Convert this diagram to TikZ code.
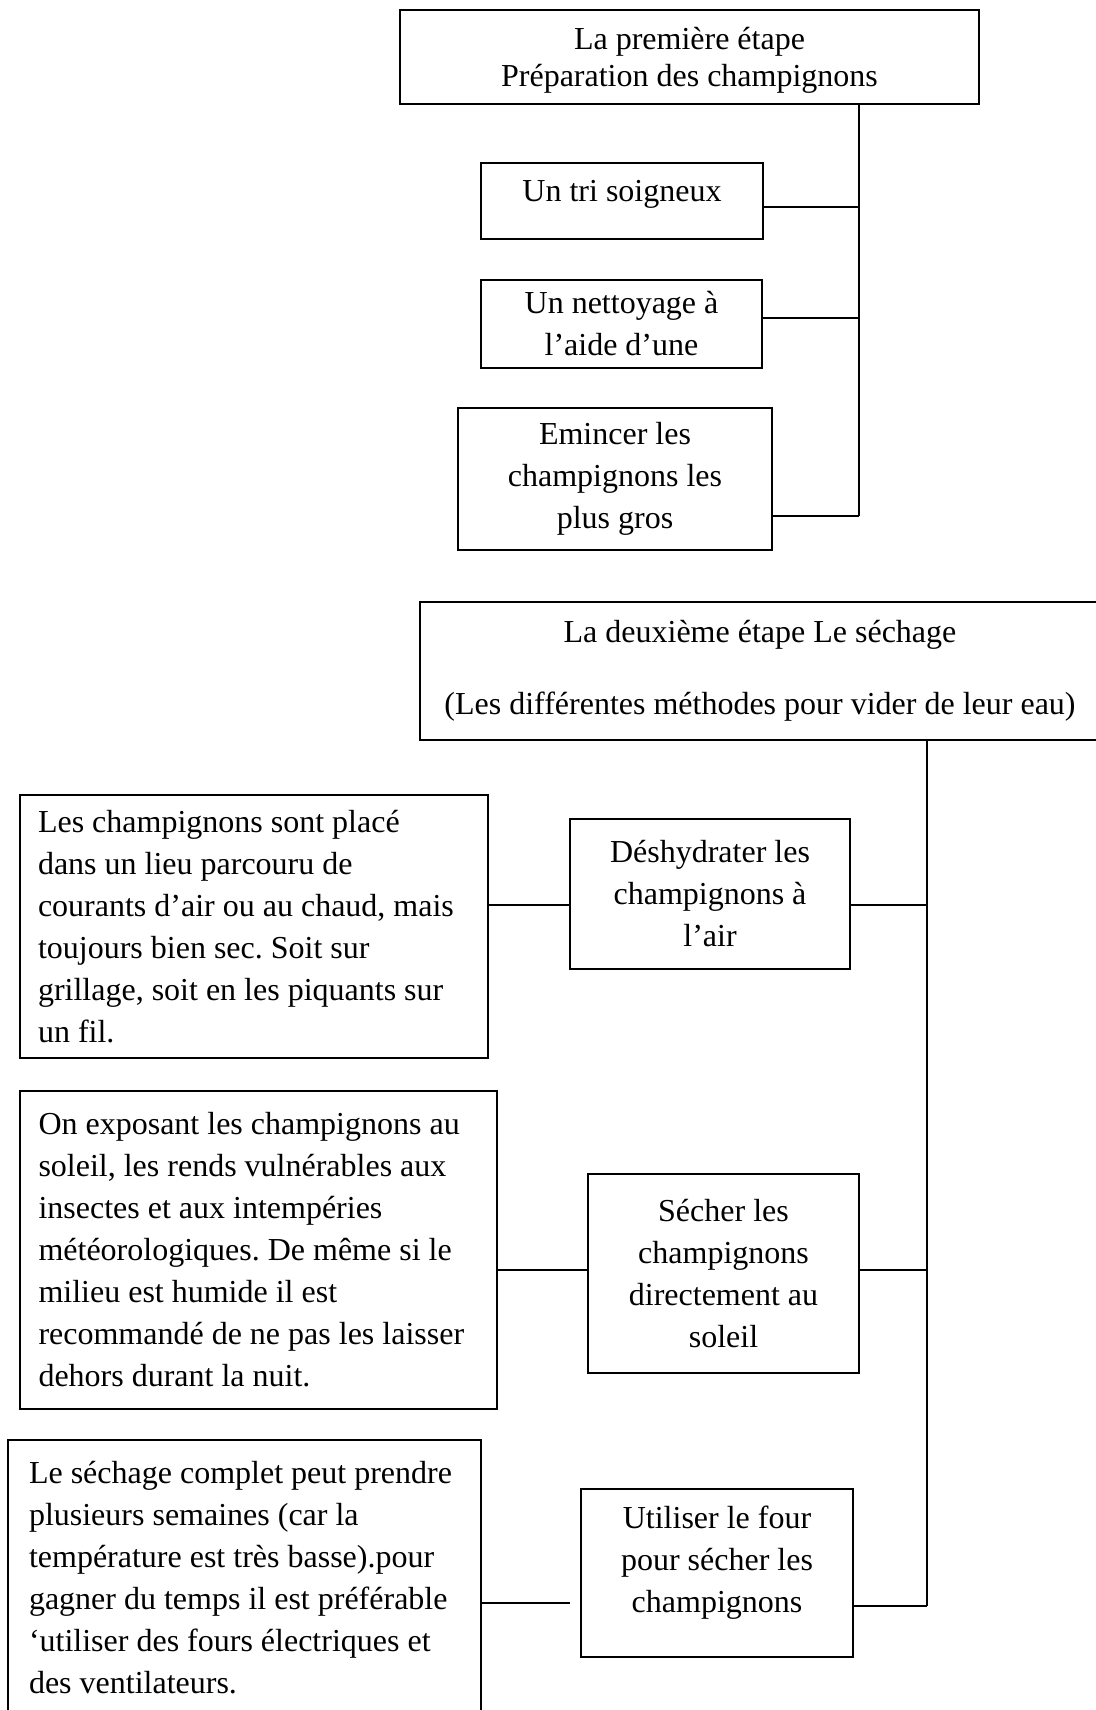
\documentclass[tikz,border=0pt]{standalone}
\usepackage{fontspec}
\setmainfont{Liberation Serif}
\frenchspacing
\begin{document}
\begin{tikzpicture}[x=0.375pt,y=-0.375pt,
  box/.style={draw,line width=0.7pt,rectangle,inner ysep=0pt,inner xsep=2pt,align=center,
    font=\fontsize{12pt}{15.75pt}\selectfont\frenchspacing},
  lbox/.style={draw,line width=0.7pt,rectangle,inner ysep=0pt,align=flush left,
    font=\fontsize{12pt}{15.75pt}\selectfont\frenchspacing},
  conn/.style={line width=0.7pt}]
\useasboundingbox (0,0) rectangle (1096,1710);
\clip (0,0) rectangle (1096,1710);

% ---- first stage
\node[box,minimum width=217.125pt,minimum height=35.25pt,text depth=0pt,font=\fontsize{12pt}{13.9pt}\selectfont] (b1) at (689.5,57)
  {La première étape\\Préparation des champignons};
\node[box,minimum width=105.75pt,minimum height=28.5pt,text depth=7.8pt] (b2) at (622,201) {Un tri soigneux};
\node[box,minimum width=105.375pt,minimum height=33pt] (b3) at (621.5,324) {Un nettoyage à\\l’aide d’une};
\node[box,minimum width=117.75pt,minimum height=53.25pt] (b4) at (615,479) {Emincer les\\champignons les\\plus gros};

\coordinate (j11) at (859,207);
\coordinate (j12) at (859,318);
\coordinate (j13) at (859,516);
\draw[conn] (b1.south -| j13) -- (j13);
\draw[conn] (b2.east |- j11) -- (j11);
\draw[conn] (b3.east |- j12) -- (j12);
\draw[conn] (b4.east |- j13) -- (j13);

% ---- second stage
\node[box,minimum width=255pt,minimum height=51.75pt] (b5) at (760,671)
  {La deuxième étape Le séchage\\[11.25pt](Les différentes méthodes pour vider de leur eau)};

\node[lbox,minimum width=175.5pt,minimum height=98.625pt,inner xsep=6.75pt,text width=162pt] (ba) at (254,926.5)
  {Les champignons sont placé\\dans un lieu parcouru de\\courants d’air ou au chaud, mais\\toujours bien sec. Soit sur\\grillage, soit en les piquants sur\\un fil.};
\node[box,minimum width=105pt,minimum height=56.25pt] (b6) at (710,894) {Déshydrater les\\champignons à\\l’air};

\node[lbox,minimum width=178.875pt,minimum height=119.25pt,inner xsep=6.9375pt,text width=165pt] (bb) at (258.5,1250)
  {On exposant les champignons au\\soleil, les rends vulnérables aux\\insectes et aux intempéries\\météorologiques. De même si le\\milieu est humide il est\\recommandé de ne pas les laisser\\dehors durant la nuit.};
\node[box,minimum width=101.625pt,minimum height=74.625pt] (b7) at (723.5,1273.5) {Sécher les\\champignons\\directement au\\soleil};

\node[lbox,minimum width=177.375pt,minimum height=103.125pt,inner xsep=7.875pt,text width=161.625pt] (bc) at (244.5,1577.5)
  {Le séchage complet peut prendre\\plusieurs semaines (car la\\température est très basse).pour\\gagner du temps il est préférable\\‘utiliser des fours électriques et\\des ventilateurs.};
\node[box,minimum width=102pt,minimum height=63pt,text depth=10.1pt] (b8) at (717,1573) {Utiliser le four\\pour sécher les\\champignons};

\coordinate (j21) at (927,905);
\coordinate (j22) at (927,1270);
\coordinate (j23) at (927,1606);
\coordinate (l3) at (570,1603);
\draw[conn] (b5.south -| j23) -- (j23);
\draw[conn] (b6.east |- j21) -- (j21);
\draw[conn] (ba.east |- j21) -- (b6.west |- j21);
\draw[conn] (b7.east |- j22) -- (j22);
\draw[conn] (bb.east |- j22) -- (b7.west |- j22);
\draw[conn] (b8.east |- j23) -- (j23);
\draw[conn] (bc.east |- l3) -- (l3);
\end{tikzpicture}
\end{document}
